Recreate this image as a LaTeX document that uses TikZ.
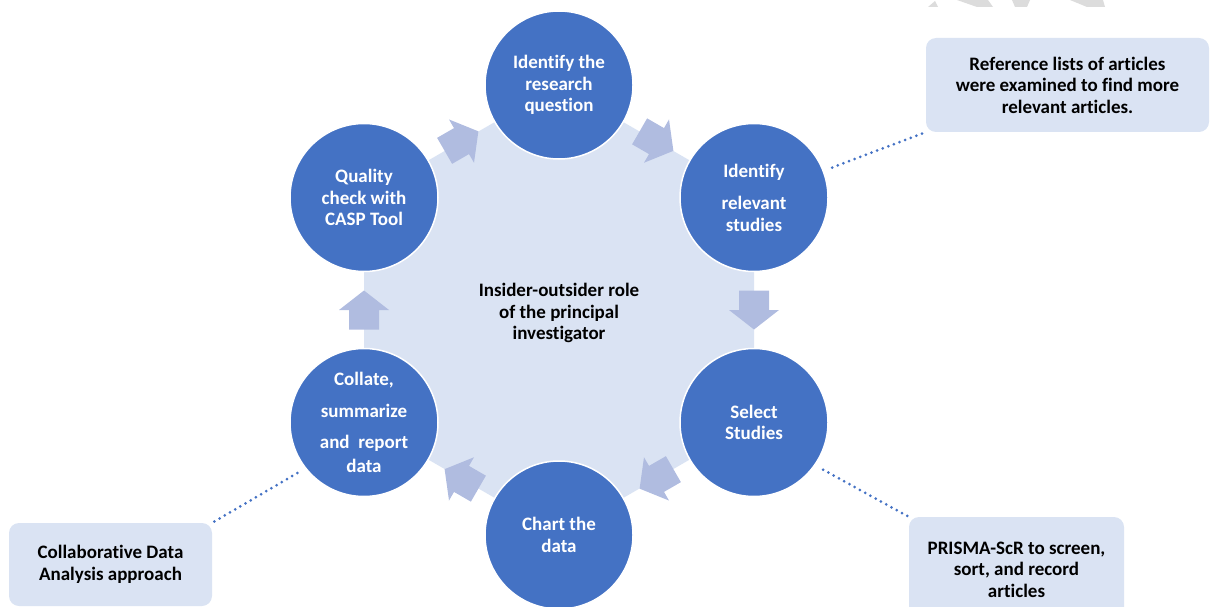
\documentclass[tikz,border=0pt]{standalone}
\usepackage{fontspec}
\setmainfont{Carlito}[Ligatures=NoCommon]
\definecolor{cblue}{HTML}{4472C4}
\definecolor{hexfill}{HTML}{DAE3F3}
\definecolor{arrowfill}{HTML}{B0BCE0}
\definecolor{boxfill}{HTML}{DAE3F3}
\definecolor{wmark}{HTML}{DCDCDC}
\tikzset{
  stage/.style={circle, fill=cblue, draw=white, line width=1.5pt, minimum size=148pt,
    inner sep=0pt, align=center, text=white},
  notebox/.style={rounded corners=10pt, fill=boxfill, align=center, text=black, inner sep=0pt},
  flowarrow/.style={fill=arrowfill},
  dotline/.style={draw=cblue, line width=3pt, line cap=round, dash pattern=on 0pt off 6pt},
}
\begin{document}
\begin{tikzpicture}[x=1pt,y=-1pt,font=\bfseries\fontsize{19}{21.5}\selectfont]
\useasboundingbox (0,0) rectangle (1210,607);
\clip (0,0) rectangle (1210,607);
% watermark fragments
\fill[wmark] (928,7) -- (938,7) -- (935,1) -- cycle;
\fill[wmark] (957,0) -- (988,0) -- (993,7) -- (977,7) -- cycle;
\fill[wmark] (1012,0) -- (1030,0) -- (1027,7) -- (1015,7) -- cycle;
\fill[wmark] (1070,0) -- (1103,0) -- (1105,7) -- (1087,7) -- cycle;
% circle centres
\coordinate (c1) at (559,85);
\coordinate (c2) at (754,197.5);
\coordinate (c3) at (754,422.5);
\coordinate (c4) at (559,535);
\coordinate (c5) at (364,422.5);
\coordinate (c6) at (364,197.5);
% hub
\fill[hexfill] (c1) -- (c2) -- (c3) -- (c4) -- (c5) -- (c6) -- cycle;
% arrows
\foreach \px/\py/\ang in {656.5/141.1/-30, 754/310/-90, 656.5/478.9/-150,
                          461.5/478.9/150, 364/310/90, 461.5/141.1/30}{
  \fill[flowarrow, shift={(\px,\py)}, rotate=\ang]
    (-19.5,-15) -- (0,-15) -- (0,-25) -- (19.5,0) -- (0,25) -- (0,15) -- (-19.5,15) -- cycle;
}
% stages
\node[stage] (n1) at (c1) {Identify the\\research\\question};
\node[stage] (n2) at (c2) {Identify\\[11pt]relevant\\studies};
\node[stage] (n3) at (c3) {Select\\Studies};
\node[stage] (n4) at (c4) {Chart the\\data};
\node[stage] (n5) at (c5) {Collate,\\[10pt]summarize\\[10pt]and\ \ report\\[2pt]data};
\node[stage] (n6) at (c6) {Quality\\check with\\CASP Tool};
\node[align=center] (hub) at (559,313) {Insider-outsider role\\of the principal\\investigator};
% notes
\node[notebox, minimum width=283pt, minimum height=94pt] (refbox) at (1067.5,85)
  {Reference lists of articles\\were examined to find more\\relevant articles.};
\node[notebox, minimum width=215pt, minimum height=105pt] (prisma) at (1016.5,569.5)
  {PRISMA-ScR to screen,\\sort, and record\\articles};
\node[notebox, minimum width=203pt, minimum height=83pt] (collab) at (110.5,564.5)
  {Collaborative Data\\Analysis approach};
% dotted callouts
\draw[dotline, shorten <=9pt, shorten >=1pt] (n2.21) -- (refbox.south west);
\draw[dotline, shorten <=9pt, shorten >=1pt] (n3.-35) -- (prisma.north west);
\draw[dotline, shorten <=9pt, shorten >=1pt] (n5.-142) -- (collab.north east);
\end{tikzpicture}
\end{document}
